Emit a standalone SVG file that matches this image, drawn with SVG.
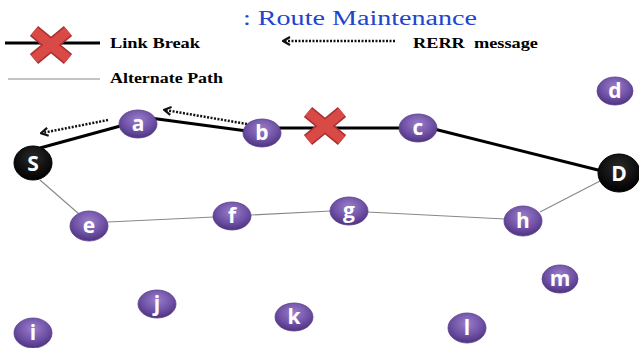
<svg xmlns="http://www.w3.org/2000/svg" width="639" height="348" viewBox="0 0 639 348">
<defs>
<radialGradient id="pg" cx="0.5" cy="0.35" r="0.65">
<stop offset="0" stop-color="#9a7fcb"/>
<stop offset="0.6" stop-color="#7052a6"/>
<stop offset="1" stop-color="#4e3380"/>
</radialGradient>
<radialGradient id="bg" cx="0.5" cy="0.35" r="0.65">
<stop offset="0" stop-color="#2a2a2a"/>
<stop offset="1" stop-color="#000"/>
</radialGradient>
<marker id="ah" viewBox="0 0 10 10" refX="8" refY="5" markerWidth="4" markerHeight="4" orient="auto">
<path d="M2,1 L9,5 L2,9" fill="none" stroke="#111" stroke-width="2.2"/>
</marker>
<g id="xmark">
<path d="M-17,-14 L17,14 M17,-14 L-17,14" stroke="#a83030" stroke-width="13" stroke-linecap="butt"/>
<path d="M-17,-14 L17,14 M17,-14 L-17,14" stroke="#d94a46" stroke-width="10" stroke-linecap="butt"/>
</g>
</defs>
<style>
.node{fill:url(#pg);stroke:#5a3f8a;stroke-width:0.8}
.end{fill:url(#bg);stroke:#000}
.lbl{font-family:"Open Sans","DejaVu Sans",sans-serif;font-weight:bold;font-size:21px;fill:#fff;text-anchor:middle;dominant-baseline:central}
.thick{stroke:#000;stroke-width:3;fill:none}
.thin{stroke:#888;stroke-width:1.1;fill:none}
.rerr{stroke:#111;stroke-width:2.5;stroke-dasharray:2 1.5;fill:none;marker-end:url(#ah)}
.leg{font-family:"Liberation Serif","Times New Roman",serif;font-weight:bold;font-size:15px;fill:#000;white-space:pre}
</style>
<rect width="639" height="348" fill="#fff"/>
<g id="title">
<text x="243" y="25" font-family="Liberation Serif, Times New Roman, serif" font-size="20" fill="#2244cc" textLength="234" lengthAdjust="spacingAndGlyphs">: Route Maintenance</text>
</g>
<g id="legend">
<line x1="5" y1="43" x2="100" y2="43" class="thick"/>
<use href="#xmark" transform="translate(51,45)"/>
<text x="110" y="48" class="leg" textLength="90" lengthAdjust="spacingAndGlyphs">Link Break</text>
<line x1="8" y1="79" x2="100" y2="79" class="thin"/>
<text x="110" y="83" class="leg" textLength="113" lengthAdjust="spacingAndGlyphs">Alternate Path</text>
<line x1="395" y1="41" x2="284" y2="41" class="rerr"/>
<text x="413" y="48" class="leg" textLength="125" lengthAdjust="spacingAndGlyphs">RERR  message</text>
</g>
<g id="connectors">
<line x1="40" y1="148" x2="124" y2="125" class="thick"/>
<line x1="150" y1="118" x2="247" y2="131" class="thick"/>
<line x1="278" y1="128" x2="402" y2="128" class="thick"/>
<line x1="434" y1="129" x2="602" y2="171" class="thick"/>
<line x1="40" y1="180" x2="79" y2="214" class="thin"/>
<line x1="108" y1="222" x2="214" y2="217" class="thin"/>
<line x1="251" y1="215" x2="331" y2="211" class="thin"/>
<line x1="367" y1="212" x2="505" y2="219" class="thin"/>
<line x1="540" y1="212" x2="600" y2="181" class="thin"/>
<line x1="108" y1="120" x2="42" y2="133" class="rerr"/>
<line x1="247" y1="124" x2="165" y2="110" class="rerr"/>
<use href="#xmark" transform="translate(325,126)"/>
</g>
<g id="node-S"><ellipse cx="33" cy="163" rx="19" ry="17" class="end"/><text x="33" y="163" class="lbl">S</text></g>
<g id="node-a"><ellipse cx="138" cy="124" rx="19" ry="14" class="node"/><text x="138" y="123" class="lbl">a</text></g>
<g id="node-b"><ellipse cx="262" cy="133" rx="19" ry="14" class="node"/><text x="262" y="132" class="lbl">b</text></g>
<g id="node-c"><ellipse cx="418" cy="128" rx="19" ry="14" class="node"/><text x="418" y="127" class="lbl">c</text></g>
<g id="node-d"><ellipse cx="615" cy="91" rx="18" ry="14" class="node"/><text x="615" y="90" class="lbl">d</text></g>
<g id="node-D"><ellipse cx="619" cy="173" rx="21" ry="19" class="end"/><text x="619" y="173" class="lbl">D</text></g>
<g id="node-e"><ellipse cx="89" cy="226" rx="19" ry="15" class="node"/><text x="89" y="225" class="lbl">e</text></g>
<g id="node-f"><ellipse cx="232" cy="216" rx="19" ry="14" class="node"/><text x="232" y="215" class="lbl">f</text></g>
<g id="node-g"><ellipse cx="349" cy="211" rx="19" ry="14" class="node"/><text x="349" y="210" class="lbl">g</text></g>
<g id="node-h"><ellipse cx="523" cy="221" rx="19" ry="15" class="node"/><text x="523" y="220" class="lbl">h</text></g>
<g id="node-i"><ellipse cx="33" cy="333" rx="19" ry="15" class="node"/><text x="33" y="332" class="lbl">i</text></g>
<g id="node-j"><ellipse cx="157" cy="304" rx="19" ry="14" class="node"/><text x="157" y="303" class="lbl">j</text></g>
<g id="node-k"><ellipse cx="294" cy="317" rx="19" ry="14" class="node"/><text x="294" y="316" class="lbl">k</text></g>
<g id="node-l"><ellipse cx="467" cy="328" rx="19" ry="15" class="node"/><text x="467" y="327" class="lbl">l</text></g>
<g id="node-m"><ellipse cx="560" cy="279" rx="18" ry="14" class="node"/><text x="560" y="278" class="lbl">m</text></g>
</svg>
